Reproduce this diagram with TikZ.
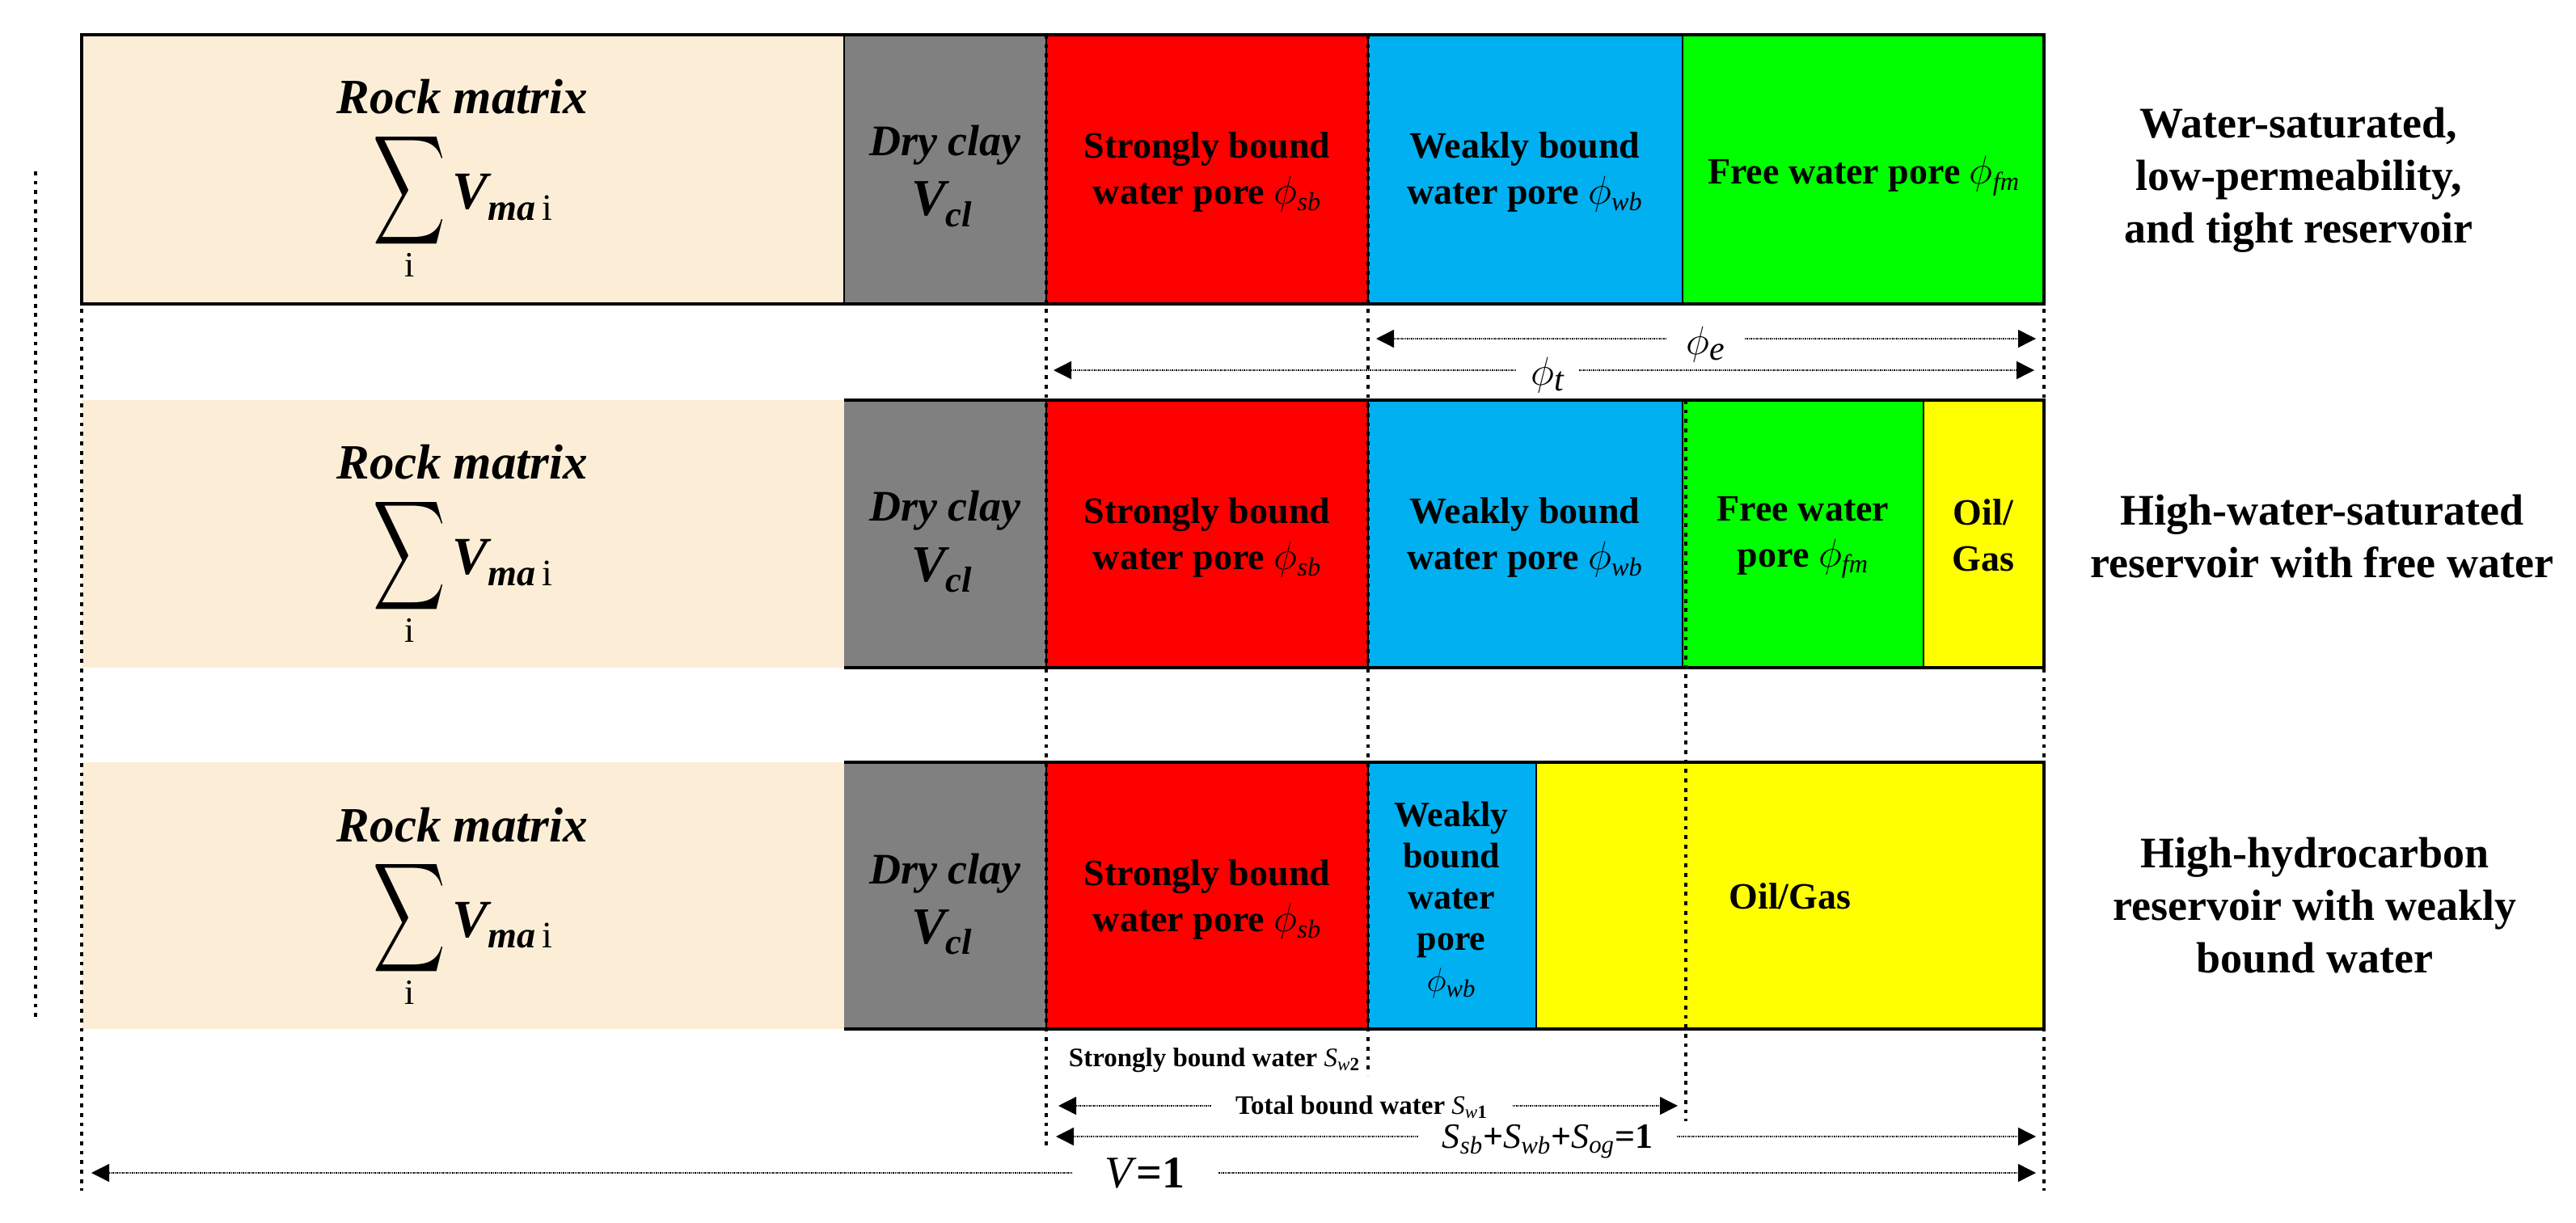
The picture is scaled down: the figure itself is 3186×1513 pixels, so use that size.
\documentclass[tikz,border=0pt]{standalone}
\usepackage{fontspec}
\setmainfont{Liberation Serif}
\usepackage{amsmath}
\usepackage{graphicx}
\usetikzlibrary{arrows.meta}
\definecolor{beige}{RGB}{252,238,214}
\definecolor{claygray}{RGB}{128,128,128}
\definecolor{sbred}{RGB}{255,0,0}
\definecolor{wbblue}{RGB}{0,176,240}
\definecolor{fwgreen}{RGB}{0,255,0}
\definecolor{ogyellow}{RGB}{255,255,0}
\newcommand\mysym[1]{\textnormal{\itshape #1}}
\newcommand\rockf{$\mathop{\raisebox{0pt}[41pt][23pt]{\scalebox{1.25}[1.9]{$\displaystyle\sum$}}}\limits_{\text{\fontsize{22}{22}\selectfont\upshape\mdseries i}}\text{V}_{\text{ma}\,\text{\upshape\mdseries i}}$}
\begin{document}
\begin{tikzpicture}[x=0.5pt,y=-0.5pt,
  sq/.style={line width=2.4pt, dash pattern=on 2.4pt off 3.45pt},
  sep/.style={line width=1.3pt},
  border/.style={line width=2.2pt},
  dim/.style={line width=0.7pt, dash pattern=on 0.7pt off 0.5pt,
    {Triangle[length=11pt,width=11pt]}-{Triangle[length=11pt,width=11pt]}},
  lbl/.style={font=\bfseries\fontsize{23}{28.5}\selectfont, align=center, inner sep=0pt},
  side/.style={font=\bfseries\fontsize{27}{32.5}\selectfont, align=center, inner sep=0pt},
  rockt/.style={font=\bfseries\itshape\fontsize{30.5}{36}\selectfont, inner sep=0pt},
  clayt/.style={font=\bfseries\itshape\fontsize{27}{32}\selectfont, inner sep=0pt},
  dimlbl/.style={fill=white, inner ysep=1pt}
]
\useasboundingbox (0,0) rectangle (3186,1513);
\fill[white] (0,0) rectangle (3186,1513);

% ---------- row 1 ----------
\fill[beige] (101,43) rectangle (1044,376);
\fill[claygray] (1044,43) rectangle (1294,376);
\fill[sbred] (1294,43) rectangle (1692,376);
\fill[wbblue] (1692,43) rectangle (2081,376);
\fill[fwgreen] (2081,43) rectangle (2528,376);
% ---------- row 2 ----------
\fill[beige] (101,495) rectangle (1044,826);
\fill[claygray] (1044,495) rectangle (1294,826);
\fill[sbred] (1294,495) rectangle (1692,826);
\fill[wbblue] (1692,495) rectangle (2081,826);
\fill[fwgreen] (2081,495) rectangle (2379,826);
\fill[ogyellow] (2379,495) rectangle (2528,826);
% ---------- row 3 ----------
\fill[beige] (101,943) rectangle (1044,1273);
\fill[claygray] (1044,943) rectangle (1294,1273);
\fill[sbred] (1294,943) rectangle (1692,1273);
\fill[wbblue] (1692,943) rectangle (1900,1273);
\fill[ogyellow] (1900,943) rectangle (2528,1273);

% separators
\draw[sep] (1044,43) -- (1044,376);
\draw[sep] (1294,43) -- (1294,376);
\draw[sep] (1692,43) -- (1692,376);
\draw[sep] (2081,43) -- (2081,376);
\draw[sep] (1294,495) -- (1294,826);
\draw[sep] (1692,495) -- (1692,826);
\draw[sep] (2081,495) -- (2081,826);
\draw[sep] (2379,495) -- (2379,826);
\draw[sep] (1294,943) -- (1294,1273);
\draw[sep] (1692,943) -- (1692,1273);
\draw[sep] (1900,943) -- (1900,1273);
% borders
\draw[border] (101,43) rectangle (2528,376);
\draw[border] (1044,495) -- (2528,495) -- (2528,826) -- (1044,826);
\draw[border] (1044,943) -- (2528,943) -- (2528,1273) -- (1044,1273);

% repeated texts
\foreach \T/\r in {43/1,495/2,943/3}{
  \node[rockt, anchor=base] (rm\r) at (572,{\T+98}) {Rock matrix};
  \node[rockt, font=\bfseries\itshape\fontsize{33}{38}\selectfont, anchor=base] (sum\r) at (573,{\T+216}) {\rockf};
  \node[clayt, anchor=base] (dc\r) at (1169,{\T+150}) {Dry clay};
  \node[clayt, font=\bfseries\itshape\fontsize{32}{36}\selectfont, anchor=base] (vcl\r) at (1165,{\T+224}) {$\text{V}_{\text{cl}}$};
  \node[lbl] (sb\r) at (1493,{\T+170}) {Strongly bound\\water pore $\phi_{\mysym{sb}}$};
}
\node[lbl] (wb1) at (1886,213) {Weakly bound\\water pore $\phi_{\mysym{wb}}$};
\node[lbl] (wb2) at (1886,665) {Weakly bound\\water pore $\phi_{\mysym{wb}}$};
\node[lbl, anchor=base] (fw1) at (2305,228) {Free water pore $\phi_{\mysym{fm}}$};
\node[lbl] (fw2) at (2230,665) {Free water\\pore $\phi_{\mysym{fm}}$};
\node[lbl] (og2) at (2453,662) {Oil/\\Gas};
\node[lbl, font=\bfseries\fontsize{22}{25.5}\selectfont] (wb3) at (1795,1113) {Weakly\\bound\\water\\pore\\$\phi_{\mysym{wb}}$};
\node[lbl] (og3) at (2214,1109) {Oil/Gas};

% side labels
\node[side] (case1) at (2843,223) {Water-saturated,\\low-permeability,\\and tight reservoir};
\node[side] (case2) at (2872,664) {High-water-saturated\\reservoir with free water};
\node[side] (case3) at (2863,1120) {High-hydrocarbon\\reservoir with weakly\\bound water};

% dashed guide lines
\coordinate (g0t) at (44,212);   \coordinate (g0b) at (44,1263);
\coordinate (g1t) at (101,43);   \coordinate (g1b) at (101,1473);
\coordinate (g2t) at (1294,43);  \coordinate (g2b) at (1294,1423);
\coordinate (g3t) at (1692,43);  \coordinate (g3b) at (1692,1330);
\coordinate (g4t) at (2085,495); \coordinate (g4b) at (2085,1387);
\coordinate (g5t) at (2528,43);  \coordinate (g5b) at (2528,1473);
\draw[sq] (g0t) -- (g0b);
\draw[sq] (g1t) -- (g1b);
\draw[sq] (g2t) -- (g2b);
\draw[sq] (g3t) -- (g3b);
\draw[sq] (g4t) -- (g4b);
\draw[sq] (g5t) -- (g5b);

% dimension arrows
\coordinate (pe-l) at (1702,419);  \coordinate (pe-r) at (2518,419);
\coordinate (pt-l) at (1303,458);  \coordinate (pt-r) at (2516,458);
\coordinate (tb-l) at (1309,1368); \coordinate (tb-r) at (2075,1368);
\coordinate (ss-l) at (1306,1406); \coordinate (ss-r) at (2518,1406);
\coordinate (v-l) at (113,1451);   \coordinate (v-r) at (2518,1451);
\draw[dim] (pe-l) -- (pe-r);
\draw[dim] (pt-l) -- (pt-r);
\draw[dim] (tb-l) -- (tb-r);
\draw[dim] (ss-l) -- (ss-r);
\draw[dim] (v-l) -- (v-r);
\node[dimlbl, inner xsep=12pt, font=\fontsize{30}{30}\selectfont] (phie) at (2110,426) {$\phi_{\mysym{e}}$};
\node[dimlbl, inner xsep=9pt, font=\fontsize{30}{30}\selectfont] (phit) at (1914,464) {$\phi_{\mysym{t}}$};
\node[font=\bfseries\fontsize{16.5}{16.5}\selectfont, inner sep=0pt] (sw2) at (1502,1312) {Strongly bound water \mysym{S}$_{\mysym{w}\text{2}}$};
\node[dimlbl, inner xsep=15pt, font=\bfseries\fontsize{16.5}{16.5}\selectfont] (sw1) at (1684,1370) {Total bound water \mysym{S}$_{\mysym{w}\text{1}}$};
\node[dimlbl, inner xsep=15pt, font=\bfseries\fontsize{22}{22}\selectfont] (ssum) at (1914,1412) {\mysym{S}$_{\mysym{sb}}$+\mysym{S}$_{\mysym{wb}}$+\mysym{S}$_{\mysym{og}}$=1};
\node[dimlbl, inner xsep=20pt, font=\bfseries\fontsize{28}{28}\selectfont] (vol) at (1416,1451) {\mysym{V}=1};
\end{tikzpicture}
\end{document}
